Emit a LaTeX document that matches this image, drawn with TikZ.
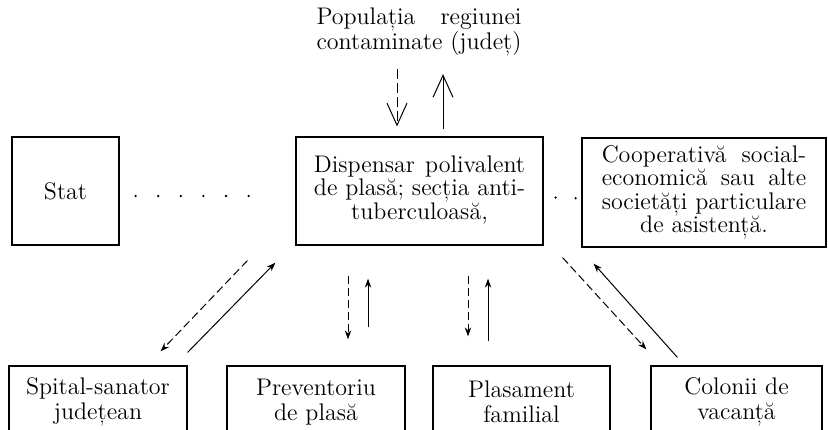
\documentclass[tikz,border=0pt]{standalone}
\usepackage{fontspec}
\usepackage{tikz}
\usetikzlibrary{arrows.meta,positioning}

\begin{document}
\begin{tikzpicture}[x=0.5pt,y=-0.5pt,font=\fontsize{12}{11}\selectfont,
    box/.style={draw,line width=0.6pt,inner sep=0pt,align=center},
    lowbox/.style={box,minimum height=36pt},
    flow/.style={line width=0.5pt,-{Stealth[length=4.5pt,width=3.2pt]}},
    back/.style={flow,dash pattern=on 4pt off 2pt},
    bigtip/.style={line width=0.5pt,-{Straight Barb[length=11pt,width=10pt]}},
    dots/.style={line width=1.3pt,line cap=round}]
  \path[use as bounding box,fill=white] (0,0) rectangle (828,429);
  % ---------------- top row ----------------
  \node (pop) at (419,32) {\begin{tabular}{@{}c@{}}Populația \hfill regiunei\\contaminate (județ)\end{tabular}};
  \node[box,minimum width=53.5pt,minimum height=54pt] (stat) at (65.5,191) {Stat};
  \node[box,minimum width=123.5pt,minimum height=54pt] (disp) at (419.5,191)
    {\begin{tabular}{@{}c@{}}Dispensar \hfill polivalent\\de \hfill plasă; \hfill secția \hfill anti-\\tuberculoasă,\end{tabular}};
  \node[box,minimum width=122pt,minimum height=54.5pt] (coop) at (704,192.5)
    {\begin{tabular}{@{}c@{}}Cooperativă \hfill social-\\economică \hfill sau \hfill alte\\societăți \hfill particulare\\de asistență.\end{tabular}};
  % ---------------- bottom row ----------------
  \node[lowbox,minimum width=89pt] (spit) at (98,402) {Spital-sanator\\[1.5pt]județean};
  \node[lowbox,minimum width=89pt] (prev) at (316,402) {Preventoriu\\[1.5pt]de plasă};
  \node[lowbox,minimum width=88.5pt] (plas) at (521.5,402) {Plasament\\[1.5pt]familial};
  \node[lowbox,minimum width=85.5pt] (colo) at (736.5,402) {Colonii de\\[1.5pt]vacanță};
  % dotted links between the top boxes
  \draw[dots,dash pattern=on 0pt off 11.3pt,shorten <=8pt,shorten >=22pt]
    ([shift={(0,5)}]stat.east) -- ([shift={(0,5)}]disp.west);
  \draw[dots,dash pattern=on 0pt off 10pt,shorten <=6pt,shorten >=2pt]
    ([shift={(0,6)}]disp.east) -- ([shift={(0,6)}]coop.west);
  % population <-> dispensary
  \draw[bigtip,dash pattern=on 5pt off 2pt] ([shift={(-22,6)}]pop.south) -- ([shift={(-22.5,-10)}]disp.north);
  \draw[bigtip] ([shift={(23.5,-7)}]disp.north) -- ([shift={(24,11)}]pop.south);
  % dispensary <-> bottom row
  \draw[back] ([shift={(-48,15)}]disp.south west) -- ([shift={(-27,-14)}]spit.north east);
  \draw[flow] ([shift={(0,-13)}]spit.north east) -- ([shift={(-20,17)}]disp.south west);
  \draw[back] ([shift={(-71.5,30)}]disp.south) -- ([shift={(32,-26)}]prev.north);
  \draw[flow] ([shift={(52,-38)}]prev.north) -- ([shift={(-51.5,33)}]disp.south);
  \draw[back] ([shift={(48.5,30)}]disp.south) -- ([shift={(-53.5,-29)}]plas.north);
  \draw[flow] ([shift={(-33.5,-24)}]plas.north) -- ([shift={(68.5,33)}]disp.south);
  \draw[back] ([shift={(19,12)}]disp.south east) -- ([shift={(-4,-16)}]colo.north west);
  \draw[flow] ([shift={(27,-8)}]colo.north west) -- ([shift={(50,18)}]disp.south east);
\end{tikzpicture}
\end{document}
